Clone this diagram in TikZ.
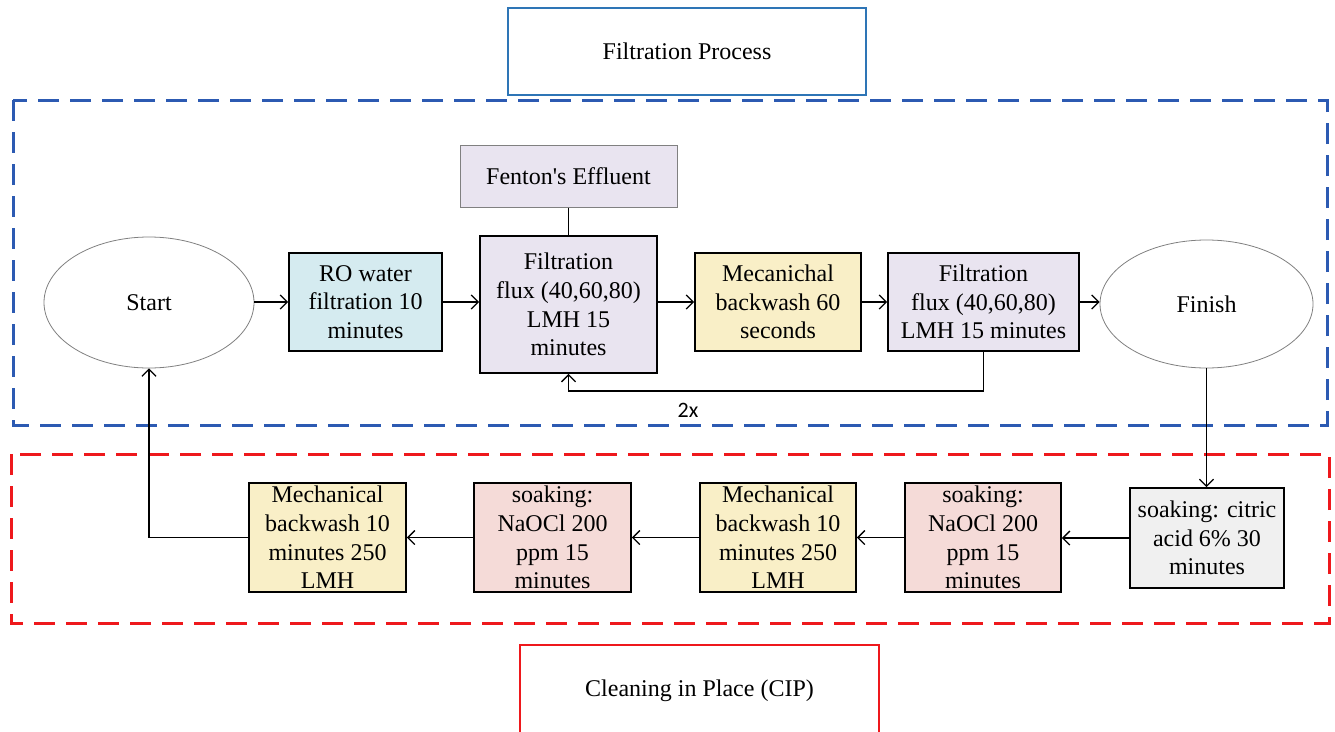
\documentclass[tikz,border=0pt]{standalone}
\usepackage{fontspec}
\setmainfont{Liberation Serif}
\newfontfamily\calfont{Carlito}
\usetikzlibrary{shapes.geometric,arrows.meta}
\definecolor{cRO}{RGB}{213,235,240}
\definecolor{cLav}{RGB}{233,228,240}
\definecolor{cYel}{RGB}{249,239,199}
\definecolor{cPink}{RGB}{245,219,216}
\definecolor{cGray}{RGB}{240,240,240}
\definecolor{cBlueDash}{RGB}{44,90,178}
\definecolor{cRedDash}{RGB}{238,24,28}
\definecolor{cTopBlue}{RGB}{46,117,182}
\definecolor{cEdge}{RGB}{128,128,128}
\tikzset{
  txt/.style={font=\fontsize{24}{28.6}\selectfont, align=center, inner sep=0pt},
  procbox/.style={txt, draw=black, line width=1.8pt, rectangle},
  thinbox/.style={txt, draw=cEdge, line width=1pt, rectangle},
  oval/.style={txt, ellipse, draw=cEdge, line width=0.8pt, fill=white},
  titlebox/.style={txt, rectangle, line width=1.2pt},
  arr/.style={line width=1.3pt, -{Straight Barb[length=7pt,width=14pt,line width=1.3pt]}},
  conn/.style={line width=1.3pt},
  dashframe/.style={line width=3pt, dash pattern=on 21pt off 11pt}
}
\begin{document}
\begin{tikzpicture}[x=1pt,y=-1pt]
\useasboundingbox (0,0) rectangle (1335,731);
\begin{scope}
\clip (0,0) rectangle (1335,731);
% frames
\draw[dashframe, draw=cBlueDash] (13,100) rectangle (1327,425);
\draw[dashframe, draw=cRedDash] (11,454) rectangle (1329,623);
% titles
\node[titlebox, draw=cTopBlue, minimum width=358pt, minimum height=87pt] (ttl) at (687,51.5) {Filtration Process};
\node[titlebox, draw=cRedDash, minimum width=359pt, minimum height=92pt] (cip) at (699.5,691) {Cleaning in Place (CIP)};
% filtration row
\node[oval, minimum width=210pt, minimum height=131pt] (start) at (149,302.5) {Start};
\node[procbox, fill=cRO, minimum width=153pt, minimum height=98pt] (ro) at (365.5,302) {RO water\\filtration 10\\minutes};
\node[procbox, fill=cLav, minimum width=177pt, minimum height=137pt] (f1) at (568.5,304.5) {Filtration\\flux (40,60,80)\\LMH 15\\minutes};
\node[thinbox, fill=cLav, minimum width=217pt, minimum height=62pt] (fen) at (568.5,176) {Fenton\textquotesingle s Effluent};
\node[procbox, fill=cYel, minimum width=166pt, minimum height=98pt] (mb60) at (778,302) {Mecanichal\\backwash 60\\seconds};
\node[procbox, fill=cLav, minimum width=191pt, minimum height=98pt] (f2) at (983.5,302) {Filtration\\flux (40,60,80)\\LMH 15 minutes};
\node[oval, minimum width=213pt, minimum height=128pt] (fin) at (1206.5,304) {Finish};
% CIP row
\node[procbox, fill=cGray, minimum width=154pt, minimum height=100pt] (cit) at (1207,538) {soaking: citric\\acid 6\% 30\\minutes};
\node[procbox, fill=cPink, minimum width=156pt, minimum height=109pt] (na2) at (983,537.5) {soaking:\\NaOCl 200\\ppm 15\\minutes};
\node[procbox, fill=cYel, minimum width=156pt, minimum height=109pt] (mb2) at (778,537.5) {Mechanical\\backwash 10\\minutes 250\\LMH};
\node[procbox, fill=cPink, minimum width=157pt, minimum height=109pt] (na1) at (552.5,537.5) {soaking:\\NaOCl 200\\ppm 15\\minutes};
\node[procbox, fill=cYel, minimum width=157pt, minimum height=109pt] (mb1) at (327.5,537.5) {Mechanical\\backwash 10\\minutes 250\\LMH};
% connectors
\draw[arr] (start.east |- ro.west) -- (ro.west);
\draw[arr] (ro.east) -- (ro.east -| f1.west);
\draw[arr] (f1.east |- mb60.west) -- (mb60.west);
\draw[arr] (mb60.east) -- (f2.west);
\draw[arr] (f2.east) -- (f2.east -| fin.west);
\draw[conn] (fen.south) -- (f1.north);
\draw[arr] (f2.south) -- ++(0,39) coordinate (lp) -| (f1.south);
\node[font=\calfont\fontsize{22}{24}\selectfont, inner sep=0pt] (twox) at (688,410) {2x};
\draw[arr] (fin.south) -- (fin.south |- cit.north);
\draw[arr] (cit.west) -- (cit.west -| na2.east);
\draw[arr] (na2.west) -- (mb2.east);
\draw[arr] (mb2.west) -- (na1.east);
\draw[arr] (na1.west) -- (mb1.east);
\draw[arr] (mb1.west) -| (start.south);
\end{scope}
\end{tikzpicture}
\end{document}
